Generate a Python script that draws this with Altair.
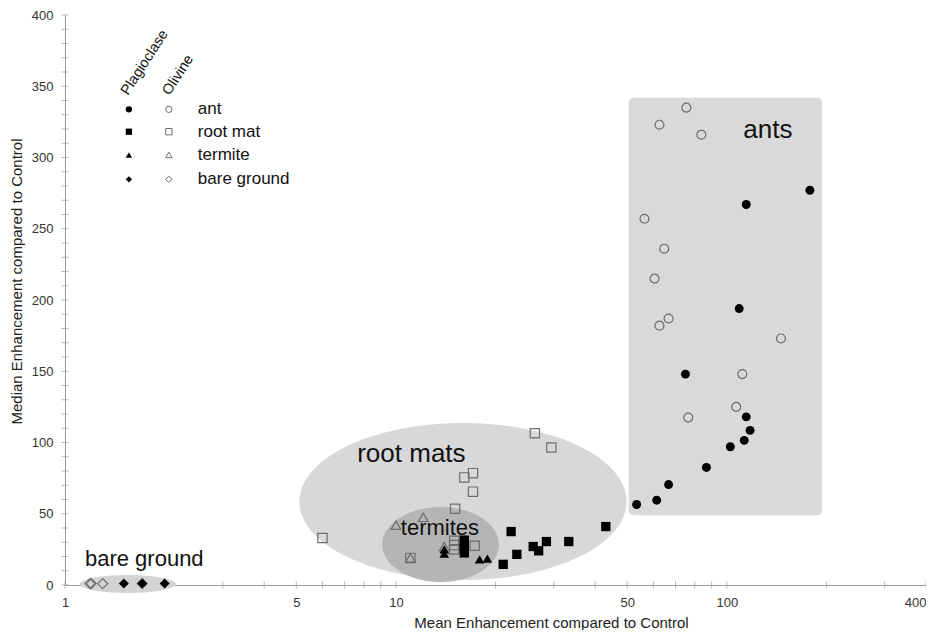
import numpy as np
import pandas as pd
import altair as alt

# ---------------- data ----------------
ant_plag_x = [178.3, 114.5, 109.0, 75.0, 114.5, 117.6, 112.9, 102.5, 86.8, 66.7, 61.4, 53.4]
ant_plag_y = [277, 267, 194, 148, 118, 108.5, 101.5, 97, 82.5, 70.5, 59.5, 56.5]
ant_oliv_x = [75.5, 62.6, 83.8, 56.4, 64.7, 60.5, 66.7, 62.6, 145.8, 111.4, 106.8, 76.5]
ant_oliv_y = [335, 323, 316, 257, 236, 215, 187, 182, 173, 148, 125, 117.5]

root_plag_x = [22.3, 43.1, 28.5, 26.0, 27.0, 33.3, 23.2, 21.1, 16.1, 16.1, 16.1, 16.1]
root_plag_y = [37.5, 41, 30.5, 27, 24, 30.5, 21.5, 14.5, 31.5, 28.5, 25.5, 22.5]
root_oliv_x = [26.3, 29.5, 16.1, 17.1, 17.1, 15.1, 6.0, 15.0, 15.0, 15.0, 17.3, 11.06]
root_oliv_y = [106.5, 96.5, 75.5, 78.5, 65.5, 53.5, 33, 31, 28, 25, 27.5, 19]

term_plag_x = [14.0, 14.0, 17.9, 18.9]
term_plag_y = [25, 22, 18, 18.5]
term_oliv_x = [10.0, 12.1, 11.06, 14.0]
term_oliv_y = [42, 47.5, 19, 27]

bare_plag_x = [1.506, 1.711, 2.0]
bare_plag_y = [1, 1, 1]
bare_oliv_x = [1.19, 1.2, 1.3, 1.711]
bare_oliv_y = [1, 1, 1, 1]

groups = ["ant", "root mat", "termite", "bare ground"]
shapes = ["circle", "square", "triangle-up", "diamond"]
marker_sizes = [80, 100, 85, 50]

x_ticks_major = [1, 5, 10, 50, 100, 400]
x_ticks_minor = [1, 2, 3, 4, 5, 6, 7, 8, 9, 10, 20, 30, 40, 50, 60, 70, 80, 90, 100, 200, 300, 400]
y_ticks_major = [0, 50, 100, 150, 200, 250, 300, 350, 400]
y_ticks_minor = list(range(0, 401, 10))

# grouping shapes (centre in log10 x, radius in decades; y centre / radius)
ellipse_root = dict(cx=1.2029, rx=0.4944, cy=58.6, ry=55.1)
ellipse_term = dict(cx=1.135, rx=0.1764, cy=28.4, ry=26.3)
ellipse_bare = dict(cx=0.190, rx=0.1447, cy=0.7, ry=6.3)
ants_box = dict(x=50.5, x2=194, y=49, y2=342)

label_text = ["ants", "root mats", "termites", "bare ground"]
label_x = [112.2, 7.64, 10.35, 1.149]
label_y = [313.7, 86.3, 35.1, 13.3]
label_size = [26, 26, 22, 22]

legend_x_filled = 1.56
legend_x_open = 2.06
legend_x_text = 2.52
legend_y = [333.8, 318.1, 301.8, 284.7]
legend_head_text = ["Plagioclase", "Olivine"]
legend_head_x = [1.55, 2.07]
legend_head_y = [343.2, 343.2]

FONT = "Liberation Sans"
AXIS_GRAY = "#9a9a9a"

# ---------------- tables ----------------
def pts(xs, ys, g):
    return pd.DataFrame({"x": xs, "y": ys, "group": g})

plag = pd.concat([pts(ant_plag_x, ant_plag_y, "ant"), pts(root_plag_x, root_plag_y, "root mat"),
                  pts(term_plag_x, term_plag_y, "termite"), pts(bare_plag_x, bare_plag_y, "bare ground")])
oliv = pd.concat([pts(ant_oliv_x, ant_oliv_y, "ant"), pts(root_oliv_x, root_oliv_y, "root mat"),
                  pts(term_oliv_x, term_oliv_y, "termite"), pts(bare_oliv_x, bare_oliv_y, "bare ground")])

def ellipse(p, n=181):
    th = np.linspace(np.pi, 0, n)
    lx = p["cx"] + p["rx"] * np.cos(th)
    h = p["ry"] * np.sin(th)
    return pd.DataFrame({"x": 10 ** lx, "y": p["cy"] + h, "y2": p["cy"] - h})

xscale = alt.Scale(type="log", domain=[1, 400], nice=False)
yscale = alt.Scale(domain=[0, 400], nice=False)

xaxis = alt.Axis(values=x_ticks_major, format="d", ticks=False, grid=False,
                 domainColor=AXIS_GRAY, labelFontSize=13, labelColor="#333", labelPadding=11,
                 labelAlign={"condition": {"test": "datum.value >= 400", "value": "right"}, "value": "center"},
                 title="Mean Enhancement compared to Control", titleFontSize=15,
                 titleFontWeight="normal", titleColor="#222", titleX=486, titleY=37,
                 titleBaseline="middle", titleAlign="center")
yaxis = alt.Axis(values=y_ticks_major, ticks=False, grid=False, domainColor=AXIS_GRAY,
                 labelFontSize=13, labelColor="#333", labelPadding=12,
                 title="Median Enhancement compared to Control", titleFontSize=15,
                 titleFontWeight="normal", titleColor="#222", titleAngle=270,
                 titleX=-49, titleY=266, titleBaseline="middle", titleAlign="center")

X = lambda f="x": alt.X(f"{f}:Q", scale=xscale, axis=xaxis)
Y = lambda f="y": alt.Y(f"{f}:Q", scale=yscale, axis=yaxis)

shape_enc = alt.Shape("group:N", scale=alt.Scale(domain=groups, range=shapes), legend=None)
size_enc = alt.Size("group:N", scale=alt.Scale(domain=groups, range=marker_sizes), legend=None)

# axis minor ticks crossing the axis lines
xt = alt.Chart(pd.DataFrame({"x": x_ticks_minor, "y": [0] * len(x_ticks_minor)})).mark_tick(
    orient="vertical", size=7, thickness=1, color=AXIS_GRAY).encode(x=X(), y=Y())
yt = alt.Chart(pd.DataFrame({"x": [1] * len(y_ticks_minor), "y": y_ticks_minor})).mark_tick(
    orient="horizontal", size=7, thickness=1, color=AXIS_GRAY).encode(x=X(), y=Y())

box = alt.Chart(pd.DataFrame([ants_box])).mark_rect(color="#d9d9d9", cornerRadius=5).encode(
    x=X(), x2="x2:Q", y=Y(), y2="y2:Q")

def ell(p, color):
    return alt.Chart(ellipse(p)).mark_area(color=color, orient="vertical", opacity=1).encode(
        x=X(), y=Y(), y2="y2:Q")

e_root = ell(ellipse_root, "#d8d8d8")
e_term = ell(ellipse_term, "#b5b5b5")
e_bare = ell(ellipse_bare, "#d3d3d3")

open_pts = alt.Chart(oliv).mark_point(filled=False, stroke="#6e6e6e", strokeWidth=1.2, opacity=1).encode(
    x=X(), y=Y(), shape=shape_enc, size=size_enc)
filled_pts = alt.Chart(plag).mark_point(filled=True, color="#000", opacity=1).encode(
    x=X(), y=Y(), shape=shape_enc, size=size_enc)

labels = alt.Chart(pd.DataFrame({"x": label_x, "y": label_y, "t": label_text, "fs": label_size})).mark_text(
    align="left", baseline="alphabetic", color="#111", font=FONT).encode(
    x=X(), y=Y(), text="t:N", size=alt.Size("fs:Q", scale=None, legend=None))

leg_df = pd.DataFrame({"group": groups, "y": legend_y})
leg_f = alt.Chart(leg_df.assign(x=legend_x_filled)).mark_point(filled=True, color="#000", size=40, opacity=1).encode(
    x=X(), y=Y(), shape=shape_enc)
leg_o = alt.Chart(leg_df.assign(x=legend_x_open)).mark_point(filled=False, stroke="#6e6e6e", strokeWidth=1, size=40, opacity=1).encode(
    x=X(), y=Y(), shape=shape_enc)
leg_t = alt.Chart(leg_df.assign(x=legend_x_text)).mark_text(align="left", baseline="middle", fontSize=17,
                                                            color="#111", font=FONT).encode(
    x=X(), y=Y(), text="group:N")
leg_h = alt.Chart(pd.DataFrame({"x": legend_head_x, "y": legend_head_y, "t": legend_head_text})).mark_text(
    align="left", baseline="alphabetic", fontSize=14.5, angle=303, color="#111", font=FONT).encode(
    x=X(), y=Y(), text="t:N")

chart = alt.layer(xt, yt, box, e_root, e_term, e_bare, open_pts, filled_pts, labels,
                  leg_f, leg_o, leg_t, leg_h).properties(
    width=861, height=570,
    autosize=alt.AutoSizeParams(type="none"),
    padding={"left": 57, "top": 7, "right": 0, "bottom": 45},
).configure(font=FONT).configure_view(stroke=None).configure_axis(labelFont=FONT, titleFont=FONT)

chart.save("out.html", embed_options={"renderer": "svg", "actions": False})
